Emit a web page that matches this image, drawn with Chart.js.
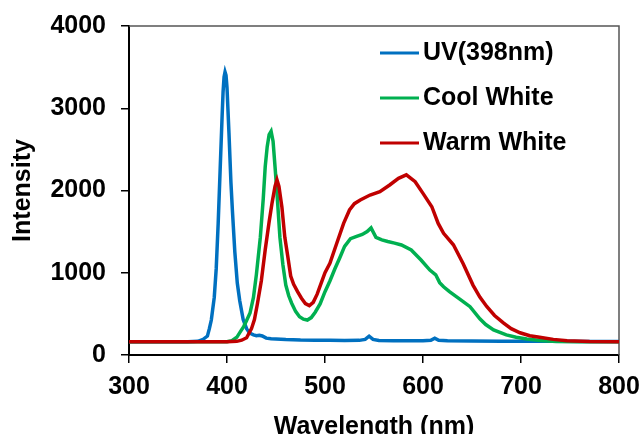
<!DOCTYPE html>
<html>
<head>
<meta charset="utf-8">
<script src="https://cdn.jsdelivr.net/npm/chart.js@4"></script>
<style>
  html, body { margin: 0; padding: 0; background: #fff; }
  #wrap { width: 641px; height: 434px; position: relative; }
</style>
</head>
<body>
<div id="wrap"><canvas id="spectra"></canvas></div>
<script>
// wavelengths (nm) and intensities
const uvWavelength = [300, 320, 340, 360, 370, 375, 380, 382, 384, 387, 389, 391, 393, 395, 396, 397, 398, 399, 400, 402, 404, 405.5, 408, 410.5, 413, 416.5, 420, 423, 427, 430, 433, 436, 440, 445, 450, 460, 475, 490, 505, 520, 535, 541, 545, 549, 555, 570, 585, 600, 608, 612, 616, 625, 650, 680, 710, 740, 770, 800];
const uvIntensity = [162, 162, 160, 162, 166, 185, 230, 320, 425, 700, 1050, 1600, 2250, 2900, 3200, 3380, 3440, 3400, 3250, 2700, 2100, 1760, 1250, 875, 660, 430, 320, 268, 245, 235, 240, 232, 205, 198, 195, 188, 182, 180, 178, 175, 178, 190, 228, 190, 176, 174, 172, 172, 178, 205, 178, 172, 170, 168, 167, 166, 165, 165];

const coolWavelength = [300, 350, 400, 405, 410, 414, 417, 420, 423.5, 427, 430, 434, 437, 439, 441, 443, 445, 447, 449, 451, 454, 457, 460, 463, 466, 470, 474, 478, 482, 486, 490, 495, 500, 505, 510, 515, 520, 526, 533, 538, 543, 547, 552, 558, 564, 571, 578, 588, 598, 607, 613, 617, 621, 627, 634, 641, 648, 658, 664, 672, 685, 695, 706, 720, 736, 760, 800];
const coolIntensity = [162, 160, 162, 175, 215, 290, 345, 420, 510, 700, 980, 1430, 1900, 2290, 2530, 2680, 2720, 2600, 2290, 1970, 1430, 1100, 850, 720, 630, 530, 465, 435, 425, 455, 520, 620, 770, 900, 1045, 1180, 1320, 1415, 1445, 1465, 1500, 1545, 1430, 1400, 1380, 1360, 1338, 1277, 1155, 1033, 975, 880, 830, 770, 710, 650, 587, 440, 370, 305, 245, 215, 195, 175, 163, 160, 160];

const warmWavelength = [300, 350, 400, 410, 415, 420, 425, 428, 431, 435, 439, 443, 446, 449, 451, 453, 456, 459, 462, 465, 468, 472, 476, 480, 484, 488, 492, 496, 500, 505, 512, 519, 525, 530, 536, 546, 556, 566, 575, 583, 592, 600, 609, 615.5, 621, 631, 641, 651, 658, 665, 673, 682, 690, 699, 709, 719, 733, 747, 770, 800];
const warmIntensity = [162, 162, 162, 166, 180, 210, 320, 430, 620, 900, 1280, 1620, 1850, 2050, 2130, 2050, 1800, 1430, 1200, 960, 860, 770, 690, 625, 600, 640, 740, 870, 1000, 1115, 1358, 1600, 1763, 1840, 1885, 1945, 1986, 2067, 2148, 2190, 2107, 1965, 1803, 1600, 1480, 1340, 1110, 850, 705, 590, 480, 390, 320, 270, 235, 215, 190, 172, 164, 162];

const seriesLabels = ["UV(398nm)", "Cool White", "Warm White"];
const seriesColors = ["#0070C0", "#00B050", "#C00000"];

const xTicks = [300, 400, 500, 600, 700, 800];
const yTicks = [0, 1000, 2000, 3000, 4000];

const FONT = "'Liberation Sans', Arial, Helvetica, sans-serif";

function toPoints(xs, ys) {
  return xs.map((x, i) => ({ x: x, y: ys[i] }));
}

// legend drawn inside the plot, Excel style
const insideLegend = {
  id: "insideLegend",
  afterDraw(chart) {
    const ctx = chart.ctx;
    const rows = [53, 98, 143];
    ctx.save();
    ctx.font = "bold 25px " + FONT;
    ctx.textBaseline = "middle";
    ctx.textAlign = "left";
    chart.data.datasets.forEach((ds, i) => {
      const y = rows[i];
      ctx.strokeStyle = ds.borderColor;
      ctx.lineWidth = 3;
      ctx.beginPath();
      ctx.moveTo(380, y);
      ctx.lineTo(419, y);
      ctx.stroke();
      ctx.fillStyle = "#000";
      ctx.fillText(ds.label, 423, y);
    });
    ctx.restore();
  },
};

// thin grey frame on the top and right of the plot
const plotFrame = {
  id: "plotFrame",
  beforeDatasetsDraw(chart) {
    const { ctx, chartArea } = chart;
    ctx.save();
    ctx.strokeStyle = "#555";
    ctx.lineWidth = 1.5;
    ctx.beginPath();
    ctx.moveTo(chartArea.left, chartArea.top);
    ctx.lineTo(chartArea.right, chartArea.top);
    ctx.lineTo(chartArea.right, chartArea.bottom);
    ctx.stroke();
    ctx.restore();
  },
};

const datasets = [
  { label: seriesLabels[0], data: toPoints(uvWavelength, uvIntensity), borderColor: seriesColors[0], order: 3 },
  { label: seriesLabels[1], data: toPoints(coolWavelength, coolIntensity), borderColor: seriesColors[1], order: 2 },
  { label: seriesLabels[2], data: toPoints(warmWavelength, warmIntensity), borderColor: seriesColors[2], order: 1 },
].map((d) => Object.assign(d, { borderWidth: 3.5, pointRadius: 0, tension: 0, fill: false }));

new Chart(document.getElementById("spectra"), {
  type: "line",
  data: { datasets: datasets },
  plugins: [plotFrame, insideLegend],
  options: {
    responsive: true,
    maintainAspectRatio: false,
    animation: false,
    layout: { padding: { top: 26, right: 22, left: 0, bottom: 0 } },
    plugins: {
      legend: { display: false },
      tooltip: { enabled: false },
    },
    scales: {
      x: {
        type: "linear",
        min: 300,
        max: 800,
        afterBuildTicks: (scale) => { scale.ticks = xTicks.map((v) => ({ value: v })); },
        afterFit: (scale) => {
          scale.height = 79;
          scale.paddingLeft = 0;
          scale.paddingRight = 0;
        },
        grid: { drawOnChartArea: false, drawTicks: true, tickLength: 8, color: "#000", lineWidth: 1.5 },
        border: { color: "#000", width: 2 },
        ticks: {
          color: "#000",
          padding: 9,
          font: { family: FONT, size: 25, weight: "bold" },
          callback: (v) => String(v),
        },
        title: {
          display: true,
          text: "Wavelength (nm)",
          color: "#000",
          padding: { top: 0, bottom: -8 },
          font: { family: FONT, size: 25, weight: "bold" },
        },
      },
      y: {
        min: 0,
        max: 4000,
        afterBuildTicks: (scale) => { scale.ticks = yTicks.map((v) => ({ value: v })); },
        afterFit: (scale) => {
          scale.width = 129;
          scale.paddingTop = 0;
          scale.paddingBottom = 0;
        },
        grid: { drawOnChartArea: false, drawTicks: true, tickLength: 8, color: "#000", lineWidth: 1.5 },
        border: { color: "#000", width: 2 },
        ticks: {
          color: "#000",
          padding: 15,
          font: { family: FONT, size: 25, weight: "bold" },
          callback: (v) => String(v),
        },
        title: {
          display: true,
          text: "Intensity",
          color: "#000",
          padding: { top: 8, bottom: 0 },
          font: { family: FONT, size: 25, weight: "bold" },
        },
      },
    },
  },
});
</script>
</body>
</html>
